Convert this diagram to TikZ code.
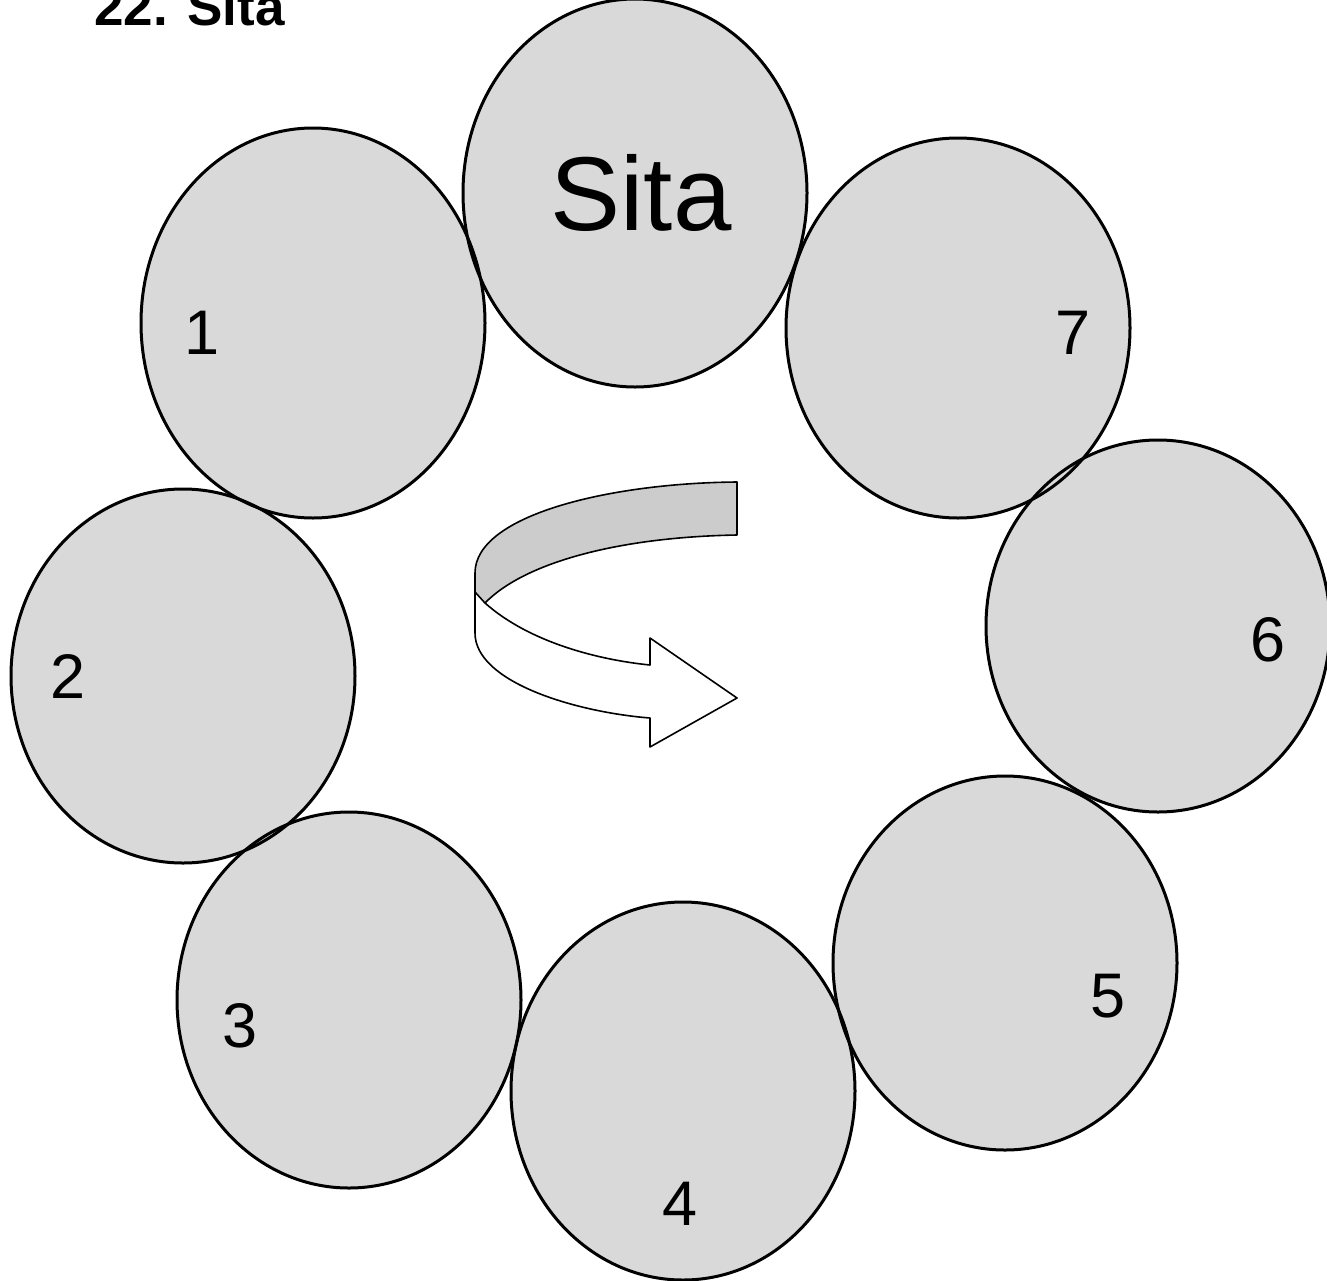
\documentclass[tikz,border=0pt]{standalone}
\usepackage{fontspec}
\setmainfont{Liberation Sans}
\usetikzlibrary{shapes.geometric}
\definecolor{ballfill}{HTML}{D9D9D9}
\definecolor{bandfill}{HTML}{CCCCCC}
\tikzset{
  ball/.style={ellipse, fill=ballfill, inner sep=0pt, minimum width=344pt, minimum height=#1},
  ring/.style={draw=black, line width=3pt},
  digit/.style={font=\fontsize{63}{63}\selectfont, inner sep=0pt},
  arrowline/.style={draw=black, line width=1.6pt, line join=round}
}
\begin{document}
\begin{tikzpicture}[x=1pt,y=-1pt]
\useasboundingbox (0,0) rectangle (1327,1280);
% fills
\node[ball=388pt] (eS) at (635,193) {};
\node[ball=390pt] (e1) at (313,323) {};
\node[ball=380pt] (e7) at (958,328) {};
\node[ball=374pt] (e2) at (183,676) {};
\node[ball=372pt] (e6) at (1158,626) {};
\node[ball=376pt] (e3) at (349,1000) {};
\node[ball=374pt] (e5) at (1005,963) {};
\node[ball=378pt] (e4) at (683,1091) {};
% outlines
\draw[ring] (eS.center) ellipse [x radius=172, y radius=194];
\draw[ring] (e1.center) ellipse [x radius=172, y radius=195];
\draw[ring] (e7.center) ellipse [x radius=172, y radius=190];
\draw[ring] (e2.center) ellipse [x radius=172, y radius=187];
\draw[ring] (e6.center) ellipse [x radius=172, y radius=186];
\draw[ring] (e3.center) ellipse [x radius=172, y radius=188];
\draw[ring] (e5.center) ellipse [x radius=172, y radius=187];
\draw[ring] (e4.center) ellipse [x radius=172, y radius=189];
% labels
\node[font=\fontsize{105}{105}\selectfont, inner sep=0pt] (lS) at (641,193) {Sita};
\node[digit] (l1) at (202,333) {1};
\node[digit] (l7) at (1073,333) {7};
\node[digit] (l2) at (68,676) {2};
\node[digit] (l6) at (1268,640) {6};
\node[digit] (l3) at (240,1026) {3};
\node[digit] (l5) at (1108,996) {5};
\node[digit] (l4) at (680,1204) {4};
% title
\node[font=\fontsize{53}{53}\selectfont\bfseries, inner sep=0pt, anchor=base west] (title) at (94,25) {22. Sita};
% curved arrow
\coordinate (a1) at (475,573);
\coordinate (a2) at (737,482);
\coordinate (a3) at (737,535);
\coordinate (a4) at (485,603);
\coordinate (a5) at (475,633);
\coordinate (h1) at (650,665);
\coordinate (h2) at (650,638);
\coordinate (tip) at (737,698);
\coordinate (h3) at (650,747);
\coordinate (h4) at (650,718);
\fill[bandfill] (a1) .. controls (475,515) and (610,483) .. (a2) -- (a3)
  .. controls (620,537) and (525,562) .. (a4) -- (475,592) -- cycle;
\draw[arrowline, fill=white] (a4) .. controls (530,643) and (600,660) .. (h1) -- (h2) -- (tip) -- (h3) -- (h4)
  .. controls (575,712) and (475,682) .. (a5) -- (475,592) -- cycle;
\draw[arrowline] (a5) -- (a1) .. controls (475,515) and (610,483) .. (a2) -- (a3)
  .. controls (620,537) and (525,562) .. (a4);
\end{tikzpicture}
\end{document}
